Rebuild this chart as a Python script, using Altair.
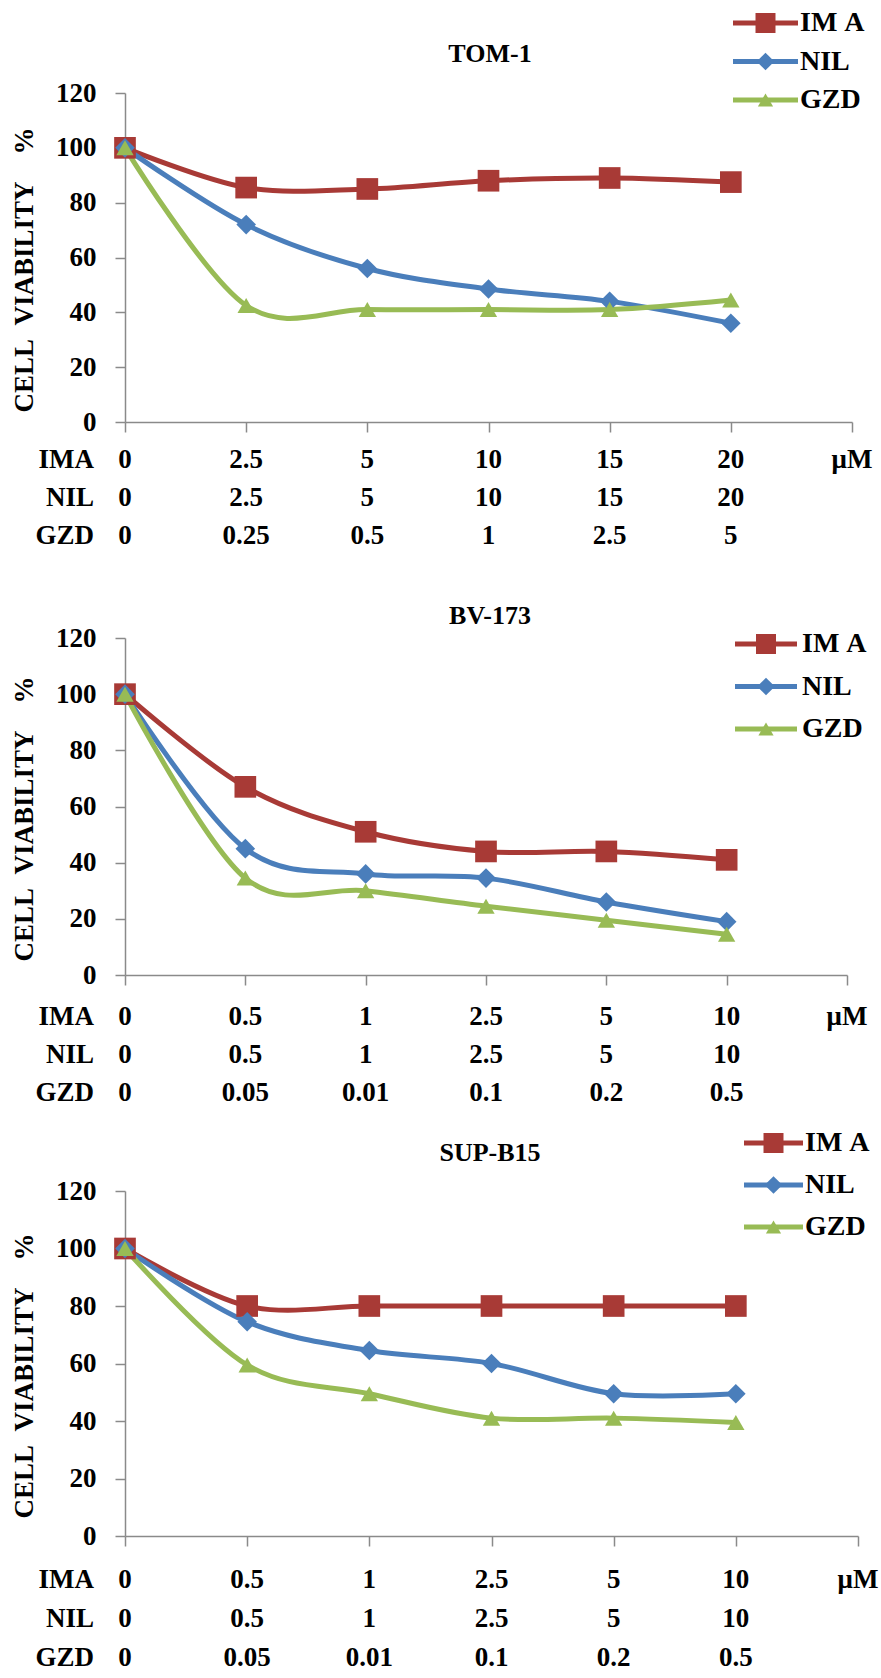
import altair as alt
import pandas as pd

FONT = "'Liberation Serif', 'Times New Roman', 'DejaVu Serif', serif"
series = ["IMA", "NIL", "GZD"]
legend_names = ["IM\u00a0A", "NIL", "GZD"]
colors = ["#A83A36", "#4A7EBB", "#98BB55"]
idx = [0, 1, 2, 3, 4, 5]

# TOM-1
tom_ima = [100, 85.5, 85, 88, 89, 87.5]
tom_nil = [100, 72, 56, 48.5, 44, 36]
tom_gzd = [100, 42.5, 41, 41, 41, 44.5]
tom_lab_ima = ["0", "2.5", "5", "10", "15", "20"]
tom_lab_nil = ["0", "2.5", "5", "10", "15", "20"]
tom_lab_gzd = ["0", "0.25", "0.5", "1", "2.5", "5"]

# BV-173
bv_ima = [100, 67, 51, 44, 44, 41]
bv_nil = [100, 45, 36, 34.5, 26, 19]
bv_gzd = [100, 34.5, 30, 24.5, 19.5, 14.5]
bv_lab_ima = ["0", "0.5", "1", "2.5", "5", "10"]
bv_lab_nil = ["0", "0.5", "1", "2.5", "5", "10"]
bv_lab_gzd = ["0", "0.05", "0.01", "0.1", "0.2", "0.5"]

# SUP-B15
sup_ima = [100, 80, 80, 80, 80, 80]
sup_nil = [100, 74.5, 64.5, 60, 49.5, 49.5]
sup_gzd = [100, 59.5, 49.5, 41, 41, 39.5]
sup_lab_ima = ["0", "0.5", "1", "2.5", "5", "10"]
sup_lab_nil = ["0", "0.5", "1", "2.5", "5", "10"]
sup_lab_gzd = ["0", "0.05", "0.01", "0.1", "0.2", "0.5"]

ytitle = "CELL\u00a0\u00a0VIABILITY\u00a0\u00a0\u00a0\u00a0%"


def make_panel(name, ima, nil, gzd, lab_ima, lab_nil, lab_gzd, w, h,
               row_range, leg_range, leg_x0, leg_x1, leg_tx, title_x, title_y):
    data = pd.DataFrame({
        "idx": idx * 3,
        "series": ["IMA"] * 6 + ["NIL"] * 6 + ["GZD"] * 6,
        "value": ima + nil + gzd,
    })
    labels = pd.DataFrame({
        "idx": idx * 3 + [6],
        "row": ["IMA"] * 6 + ["NIL"] * 6 + ["GZD"] * 6 + ["IMA"],
        "label": lab_ima + lab_nil + lab_gzd + ["\u03bcM"],
    })
    heads = pd.DataFrame({"row": series})
    leg = pd.DataFrame({"series": series, "name": legend_names})
    ttl = pd.DataFrame({"t": [name]})

    x_enc = alt.X("idx:Q", scale=alt.Scale(domain=[0, 6], nice=False, zero=False),
                  axis=alt.Axis(values=list(range(7)), labels=False, tickSize=10,
                                grid=False, title=None))
    ys = alt.Scale(domain=[0, 120], nice=False)
    color = alt.Color("series:N", scale=alt.Scale(domain=series, range=colors), legend=None)
    shape = alt.Shape("series:N", scale=alt.Scale(domain=series,
                      range=["square", "diamond", "triangle-up"]), legend=None)

    lines = alt.Chart(data).mark_line(interpolate="cardinal", strokeWidth=5).encode(
        x=x_enc,
        y=alt.Y("value:Q", scale=ys, axis=alt.Axis(
            values=[0, 20, 40, 60, 80, 100, 120], tickSize=10, labelPadding=19,
            grid=False, title=ytitle, titleFont=FONT, titleFontSize=27,
            titleFontWeight="bold", titleColor="black", titleAngle=270,
            titleX=-101, titleY=h / 2 + 12, titleAlign="center",
            titleBaseline="middle")),
        color=color,
    )
    pts = alt.Chart(data).mark_point(filled=True, opacity=1).encode(
        x=x_enc,
        y=alt.Y("value:Q", scale=ys, axis=None),
        color=color,
        shape=shape,
        size=alt.Size("series:N", scale=alt.Scale(domain=series, range=[470, 300, 430]),
                      legend=None),
    )
    row_scale = alt.Scale(type="point", domain=series, range=row_range, padding=0)
    rows = alt.Chart(labels).mark_text(font=FONT, fontSize=27, fontWeight="bold",
                                       align="center", baseline="middle",
                                       color="black").encode(
        x=x_enc,
        y=alt.Y("row:N", scale=row_scale, axis=None),
        text="label:N",
    )
    hds = alt.Chart(heads).mark_text(font=FONT, fontSize=27, fontWeight="bold",
                                     align="right", baseline="middle",
                                     color="black").encode(
        x=alt.value(-31),
        y=alt.Y("row:N", scale=row_scale, axis=None),
        text="row:N",
    )
    leg_scale = alt.Scale(type="point", domain=series, range=leg_range, padding=0)
    leg_rule = alt.Chart(leg).mark_rule(strokeWidth=5).encode(
        x=alt.value(leg_x0), x2=alt.value(leg_x1),
        y=alt.Y("series:N", scale=leg_scale, axis=None),
        color=color,
    )
    leg_pts = alt.Chart(leg).mark_point(filled=True, opacity=1).encode(
        x=alt.value((leg_x0 + leg_x1) / 2),
        y=alt.Y("series:N", scale=leg_scale, axis=None),
        color=color,
        shape=shape,
        size=alt.Size("series:N", scale=alt.Scale(domain=series, range=[400, 230, 380]),
                      legend=None),
    )
    leg_txt = alt.Chart(leg).mark_text(font=FONT, fontSize=28, fontWeight="bold",
                                       align="left", baseline="middle",
                                       color="black").encode(
        x=alt.value(leg_tx),
        y=alt.Y("series:N", scale=leg_scale, axis=None),
        text="name:N",
    )
    title = alt.Chart(ttl).mark_text(font=FONT, fontSize=26, fontWeight="bold",
                                     align="center", baseline="middle",
                                     color="black").encode(
        x=alt.value(title_x), y=alt.value(title_y), text="t:N")

    return alt.layer(lines, pts, rows, hds, leg_rule, leg_pts, leg_txt, title).resolve_scale(
        y="independent", size="independent").properties(width=w, height=h)


p1 = make_panel("TOM-1", tom_ima, tom_nil, tom_gzd, tom_lab_ima, tom_lab_nil, tom_lab_gzd,
                727, 329, [329 + 38, 329 + 114], [-70, 7], 608, 673, 675, 365, -39)
p2 = make_panel("BV-173", bv_ima, bv_nil, bv_gzd, bv_lab_ima, bv_lab_nil, bv_lab_gzd,
                722, 337, [337 + 42, 337 + 118], [6, 91], 610, 672, 677, 365, -22)
p3 = make_panel("SUP-B15", sup_ima, sup_nil, sup_gzd, sup_lab_ima, sup_lab_nil, sup_lab_gzd,
                733, 345, [345 + 44, 345 + 122], [-48, 36], 619, 678, 680, 365, -38)

chart = alt.vconcat(p1, p2, p3, spacing=216, bounds="flush").properties(
    padding={"left": 10, "top": 9, "right": 0, "bottom": 0}
).configure_view(stroke=None).configure_axis(
    domainColor="#8a8a8a", tickColor="#8a8a8a", domainWidth=1.5, tickWidth=1.5,
    labelFont=FONT, labelFontSize=27, labelFontWeight="bold", labelColor="black",
)

chart.save("out.html", embed_options={"renderer": "svg", "actions": False})
